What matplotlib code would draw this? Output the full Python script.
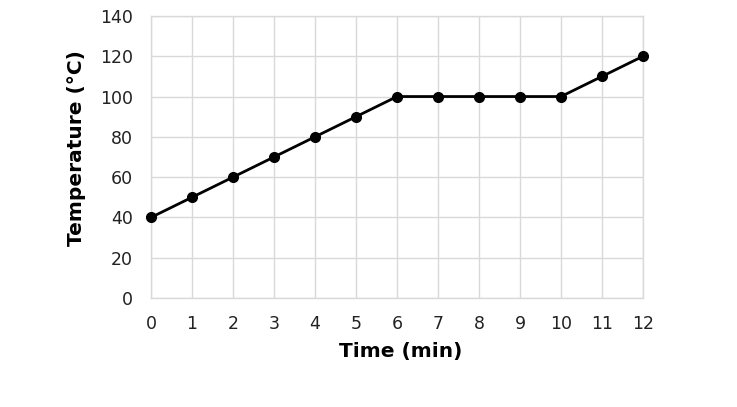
import matplotlib.pyplot as plt

# --- Data ---
time_min = [0, 1, 2, 3, 4, 5, 6, 7, 8, 9, 10, 11, 12]
temperature_c = [40, 50, 60, 70, 80, 90, 100, 100, 100, 100, 100, 110, 120]
y_ticks = [0, 20, 40, 60, 80, 100, 120, 140]

fig = plt.figure(figsize=(7.37, 4.07), dpi=100)
ax = fig.add_axes([0.2049, 0.2678, 0.6676, 0.693])

ax.plot(time_min, temperature_c, color='black', linewidth=2, marker='o',
        markersize=7, zorder=3, clip_on=False)

ax.set_xlim(0, 12)
ax.set_ylim(0, 140)
ax.set_xticks(time_min)
ax.set_yticks(y_ticks)
ax.grid(True, color='#d9d9d9', linewidth=1)
ax.set_axisbelow(True)
for side in ax.spines.values():
    side.set_color('#d9d9d9')
    side.set_linewidth(1)
ax.tick_params(length=0, labelsize=12.5, colors='#222222')
ax.tick_params(axis='x', pad=12)
ax.tick_params(axis='y', pad=13)

ax.set_xlabel('Time (min)', fontsize=14.5, fontweight='bold', labelpad=7)
ax.set_ylabel('Temperature (°C)', fontsize=14.5, fontweight='bold', labelpad=10)
# labels sit a little off-centre in the original
ax.xaxis.label.set_x(0.508)
ax.yaxis.label.set_y(0.532)

fig.savefig('out.png', dpi=100)
